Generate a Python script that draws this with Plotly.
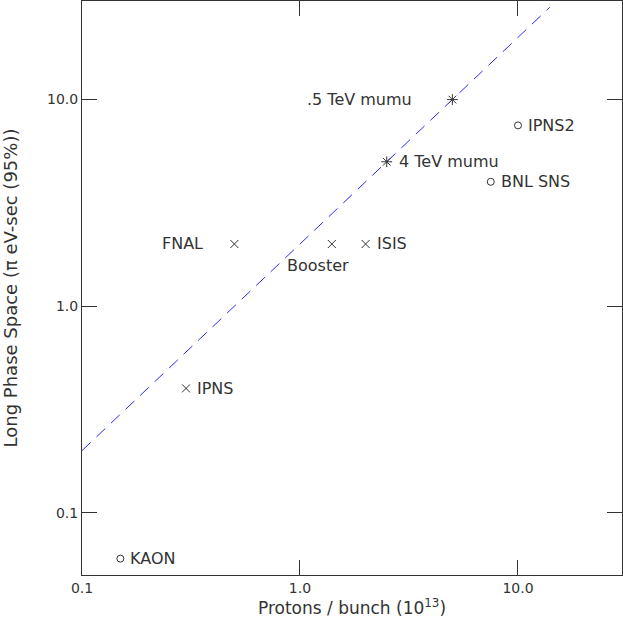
import numpy as np
import plotly.graph_objects as go

# machines: protons per bunch (1e13) vs longitudinal phase space (pi eV-sec, 95%)
names = [".5 TeV mumu", "4 TeV mumu", "IPNS2", "BNL SNS", "FNAL", "Booster", "ISIS", "IPNS", "KAON"]
protons = [5.0, 2.5, 10.0, 7.5, 0.5, 1.4, 2.0, 0.3, 0.15]
phase = [10.0, 5.0, 7.5, 4.0, 2.0, 2.0, 2.0, 0.4, 0.06]
kinds = ["mumu", "mumu", "planned", "planned", "existing", "existing", "existing", "existing", "planned"]

# dashed reference line, phase = 2 * protons
line_x = [0.1, 14.0]
line_y = [0.2, 28.0]

x_ticks = [0.1, 1.0, 10.0]
y_ticks = [0.1, 1.0, 10.0]

INK = "#333333"
FONT = "DejaVu Sans"

symbols = {"mumu": "asterisk-open", "planned": "circle-open", "existing": "x-thin-open"}
sizes = {"mumu": 9, "planned": 7, "existing": 8}

# label placement (anchor, dx, dy) per point
label_pos = [("right", -38, 0), ("left", 10, 0), ("left", 8, 0), ("left", 8, 0),
             ("right", -29, 0), ("center", -14, -22), ("left", 9, 0), ("left", 9, 0),
             ("left", 8, 0)]

fig = go.Figure()

fig.add_trace(go.Scatter(
    x=line_x, y=line_y, mode="lines",
    line=dict(color="#2b2bff", width=1, dash="12px,8px"),
    hoverinfo="skip", showlegend=False))

for kind in ["mumu", "planned", "existing"]:
    idx = [i for i, k in enumerate(kinds) if k == kind]
    fig.add_trace(go.Scatter(
        x=[protons[i] for i in idx], y=[phase[i] for i in idx],
        mode="markers",
        marker=dict(symbol=symbols[kind], size=sizes[kind], color=INK,
                    line=dict(color=INK, width=1)),
        text=[names[i] for i in idx], showlegend=False))

for name, px, py, (anchor, dx, dy) in zip(names, protons, phase, label_pos):
    fig.add_annotation(
        x=np.log10(px), y=np.log10(py), text=name, showarrow=False,
        xanchor=anchor, yanchor="middle", xshift=dx, yshift=dy,
        font=dict(family=FONT, size=16, color=INK))

axis_common = dict(
    type="log", showgrid=False, zeroline=False, showline=True, mirror="ticks",
    linecolor=INK, linewidth=1, ticks="inside", ticklen=15, tickwidth=1,
    tickcolor=INK, tickfont=dict(family=FONT, size=14, color=INK),
    automargin=False,
)

fig.update_xaxes(
    range=[np.log10(0.1), np.log10(30)], tickvals=x_ticks,
    ticktext=["0.1", "1.0", "10.0"],
    title=dict(text="Protons / bunch (10<sup>13</sup>)", standoff=6,
               font=dict(family=FONT, size=17, color=INK)),
    **axis_common)
fig.update_yaxes(
    range=[np.log10(0.05), np.log10(30)], tickvals=y_ticks,
    ticktext=["0.1", "1.0", "10.0"],
    title=dict(text="Long Phase Space (π eV-sec (95%))", standoff=26,
               font=dict(family=FONT, size=18, color=INK)),
    **axis_common)

fig.update_layout(
    width=623, height=623,
    margin=dict(l=82, r=1, t=1, b=48),
    plot_bgcolor="white", paper_bgcolor="white",
)

# drop the browser's default body margin so the figure sits at the page corner
fig.write_html("out.html", config={"displayModeBar": False},
               post_script="document.body.style.margin='0';")
